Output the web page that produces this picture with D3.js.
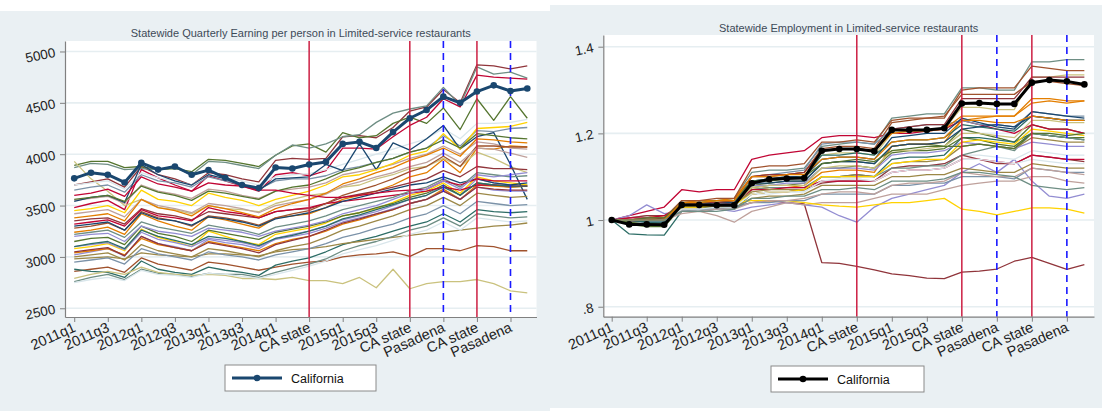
<!DOCTYPE html>
<html><head><meta charset="utf-8">
<script src="https://cdn.jsdelivr.net/npm/d3@7"></script>
<style>
body{margin:0;background:#fff;}
svg text{font-family:"Liberation Sans",Arial,Helvetica,sans-serif;}
</style></head><body>
<svg id="c" width="1110" height="411"></svg>
<script>
// ---------- DATA ----------
const quarters = ["2011q1","2011q2","2011q3","2011q4","2012q1","2012q2","2012q3","2012q4",
  "2013q1","2013q2","2013q3","2013q4","2014q1","2014q2","2014q3","2014q4",
  "2015q1","2015q2","2015q3","2015q4","2016q1","2016q2","2016q3","2016q4",
  "2017q1","2017q2","2017q3","2017q4"];
const tickQuarters = ["2011q1","2011q3","2012q1","2012q3","2013q1","2013q3","2014q1","2014q3","2015q1","2015q3","2016q1","2016q3","2017q1","2017q3"];
const tickLabels = ["2011q1","2011q3","2012q1","2012q3","2013q1","2013q3","2014q1","CA state","2015q1","2015q3","CA state","Pasadena","CA state","Pasadena"];
const caStateQuarters = ["2014q3","2016q1","2017q1"];
const pasadenaQuarters = ["2016q3","2017q3"];

const earnTitle = "Statewide Quarterly Earning per person in Limited-service restaurants";
const empTitle = "Statewide Employment in Limited-service restaurants";
const legendLabel = "California";

const earnTicks = [2500,3000,3500,4000,4500,5000];
const earnTickLabels = ["2500","3000","3500","4000","4500","5000"];
const empTicks = [0.8,1.0,1.2,1.4];
const empTickLabels = [".8","1","1.2","1.4"];

const earnCA = [3765,3820,3800,3725,3915,3850,3880,3800,3845,3770,3700,3670,3870,3860,3900,3925,4100,4120,4060,4215,4350,4430,4560,4500,4610,4670,4615,4640];
const empCA = [1.0,0.99,0.99,0.989,1.035,1.035,1.034,1.034,1.085,1.094,1.096,1.097,1.16,1.164,1.164,1.159,1.208,1.208,1.208,1.212,1.269,1.27,1.268,1.268,1.317,1.323,1.32,1.313];

const earnOthers = [
 [3700,3730,3760,3680, 3880,3800,3760,3700, 3820,3800,3760,3730, 3940,3960,3950,3960, 4170,4180,4160,4260, 4420,4460,4630,4500, 4870,4860,4830,4860],
 [3890,3930,3930,3870, 3880,3850,3860,3830, 3950,3940,3910,3880, 3990,4080,4100,4020, 4210,4160,4180,4300, 4360,4300,4450,4240, 4540,4330,4560,4350],
 [3240,3260,3290,3220, 3420,3350,3300,3260, 3390,3360,3320,3280, 3380,3400,3420,3480, 3560,3600,3640,3700, 3780,3820,3950,3820, 4060,4050,4080,4070],
 [3870,3910,3900,3850, 3860,3850,3870,3800, 3930,3920,3890,3860, 3990,4090,4060,4100, 4170,4190,4310,4400, 4440,4470,4650,4480, 4850,4780,4800,4740],
 [3480,3520,3550,3460, 3850,3770,3700,3640, 3790,3740,3690,3640, 3800,3820,3790,3840, 4060,4060,4050,4170, 4280,4360,4540,4460, 4770,4750,4740,4730],
 [3020,3050,3080,3010, 3200,3130,3100,3060, 3170,3140,3120,3080, 3180,3220,3250,3300, 3360,3400,3440,3500, 3560,3600,3700,3600, 3760,3720,3700,3700],
 [3930,3760,3640,3500, 3560,3480,3460,3420, 3500,3470,3460,3440, 3520,3560,3600,3620, 3680,3700,3760,3800, 3860,3880,3960,3880, 4020,3960,3880,3820],
 [2860,2880,2900,2850, 2990,2930,2900,2870, 2950,2930,2900,2870, 2900,2930,2950,2960, 3000,3020,3030,3050, 3005,3080,3080,3060, 3110,3100,3060,3060],
 [3650,3680,3700,3630, 3800,3740,3720,3680, 3780,3740,3700,3660, 3740,3760,3760,3790, 3850,3880,3920,3960, 4020,4060,4180,4080, 4230,4220,4250,4260],
 [2880,2860,2850,2800, 2960,2880,2850,2830, 2900,2870,2850,2820, 2920,2960,2990,3050, 3120,3160,3200,3250, 3300,3340,3420,3340, 3460,3440,3430,3440],
 [2980,2990,3000,2980, 3040,3020,3010,3000, 3030,3030,3020,3010, 3050,3070,3080,3100, 3130,3150,3170,3190, 3210,3230,3240,3260, 3280,3300,3310,3330],
 [3550,3570,3590,3520, 3700,3640,3610,3570, 3660,3640,3600,3570, 3640,3660,3680,3720, 3800,3830,3860,3900, 3960,4000,4080,4000, 4120,4100,4060,4050],
 [3080,3100,3130,3060, 3270,3190,3150,3100, 3250,3200,3150,3120, 3220,3250,3280,3330, 3400,3430,3470,3530, 3600,3640,3720,3620, 3780,3740,3720,3700],
 [3700,3720,3740,3660, 3820,3770,3740,3700, 3800,3770,3740,3700, 3780,3800,3810,3850, 3900,3950,4000,4050, 4100,4150,4250,4150, 4300,4300,4310,4340],
 [3540,3580,3600,3530, 3900,3800,3740,3700, 3800,3760,3700,3650, 3760,3770,3780,3900, 3840,4100,3850,4110, 4040,4150,4280,4050, 4170,4210,3900,3560],
 [3350,3370,3380,3320, 3470,3420,3400,3360, 3440,3420,3400,3380, 3440,3460,3470,3520, 3580,3610,3640,3680, 3720,3760,3840,3780, 3880,3860,3860,3850],
 [3150,3180,3190,3120, 3300,3230,3200,3150, 3260,3230,3200,3170, 3240,3270,3300,3340, 3400,3430,3480,3520, 3580,3620,3700,3600, 3720,3700,3680,3690],
 [3040,3060,3080,3020, 3180,3120,3090,3060, 3150,3120,3090,3060, 3130,3170,3200,3250, 3320,3360,3410,3460, 3520,3560,3660,3560, 3700,3690,3680,3690],
 [2760,2800,2830,2780, 2880,2840,2830,2810, 2840,2830,2830,2800, 2850,2890,2930,2980, 3060,3110,3150,3200, 3260,3300,3380,3300, 3420,3400,3380,3390],
 [3320,3340,3360,3300, 3460,3400,3380,3350, 3480,3440,3420,3380, 3440,3460,3480,3520, 3540,3560,3580,3600, 3620,3640,3680,3650, 3700,3700,3690,3690],
 [3100,3120,3140,3070, 3240,3170,3140,3100, 3180,3160,3140,3100, 3170,3200,3230,3280, 3340,3380,3420,3470, 3520,3560,3640,3560, 3680,3650,3640,3640],
 [2790,2830,2860,2830, 2900,2850,2830,2820, 2830,2820,2790,2790, 2780,2800,2770,2770, 2740,2800,2700,2880, 2690,2740,2760,2760, 2780,2740,2670,2650],
 [3280,3300,3330,3260, 3440,3380,3350,3300, 3400,3380,3350,3310, 3380,3420,3450,3520, 3600,3650,3700,3760, 3830,3880,3980,3880, 4080,4080,4070,4070],
 [2950,2970,2990,2930, 3080,3030,3000,2970, 3050,3020,3000,2970, 3020,3050,3080,3130, 3190,3230,3280,3320, 3380,3420,3500,3420, 3540,3520,3500,3510],
 [3100,3130,3150,3080, 3260,3200,3160,3120, 3200,3180,3150,3110, 3180,3210,3250,3300, 3370,3410,3460,3510, 3560,3600,3680,3600, 3720,3700,3690,3690],
 [3000,3020,3040,2970, 3120,3060,3030,3000, 3080,3060,3030,3000, 3060,3100,3130,3190, 3260,3300,3350,3400, 3460,3500,3580,3500, 3620,3600,3580,3590],
 [3420,3440,3460,3390, 3560,3500,3470,3430, 3520,3500,3470,3430, 3500,3530,3560,3610, 3690,3730,3780,3820, 3880,3920,4010,3920, 4060,4050,4010,3970],
 [3450,3470,3500,3430, 3650,3560,3540,3500, 3620,3580,3550,3500, 3560,3600,3640,3700, 3780,3800,3850,3910, 3990,4030,4200,4050, 4250,4260,4270,4310],
 [2750,2780,2800,2770, 2870,2830,2820,2800, 2840,2830,2810,2790, 2830,2870,2910,2960, 3030,3070,3110,3160, 3220,3260,3340,3260, 3380,3360,3340,3350],
 [3300,3320,3340,3260, 3430,3370,3350,3310, 3390,3370,3340,3300, 3370,3400,3430,3480, 3540,3580,3620,3660, 3700,3720,3780,3720, 3760,3720,3700,3720],
 [3050,3070,3090,3010, 3200,3130,3090,3060, 3140,3110,3080,3040, 3120,3160,3200,3260, 3330,3370,3420,3460, 3520,3560,3640,3560, 3680,3660,3650,3650],
 [3560,3580,3600,3540, 3690,3630,3600,3550, 3640,3620,3590,3560, 3640,3680,3700,3760, 3830,3870,3920,3960, 4020,4060,4140,4060, 4200,4180,4160,4150],
 [3380,3400,3420,3350, 3560,3480,3450,3400, 3500,3470,3430,3390, 3470,3520,3560,3620, 3710,3760,3820,3870, 3940,3990,4060,3980, 4150,4140,4120,4110],
 [3220,3240,3260,3190, 3340,3290,3260,3230, 3310,3280,3260,3220, 3290,3320,3350,3400, 3460,3500,3540,3580, 3640,3680,3760,3680, 3820,3800,3780,3790],
 [3600,3620,3660,3590, 3780,3710,3680,3640, 3720,3700,3690,3650, 3650,3620,3600,3580, 3580,3600,3620,3640, 3650,3660,3740,3700, 3760,3740,3740,3740],
 [3200,3220,3230,3150, 3300,3250,3230,3200, 3280,3260,3240,3200, 3250,3280,3310,3350, 3420,3460,3500,3560, 3620,3660,3740,3660, 3800,3780,3800,3820]
];

const empOthers = [
 [1.0,0.995,1.0,1.0, 1.02,1.025,1.03,1.03, 1.04,1.045,1.04,1.037, 0.902,0.9,0.893,0.885, 0.876,0.872,0.866,0.865, 0.88,0.882,0.887,0.905, 0.914,0.9,0.886,0.897],
 [1.0,0.99,0.985,0.985, 1.03,1.03,1.035,1.035, 1.08,1.085,1.09,1.09, 1.13,1.135,1.135,1.13, 1.17,1.175,1.175,1.17, 1.21,1.2,1.19,1.18, 1.22,1.21,1.21,1.2],
 [1.0,1.0,0.995,0.99, 1.03,1.03,1.03,1.035, 1.07,1.075,1.075,1.08, 1.11,1.115,1.115,1.11, 1.17,1.175,1.175,1.18, 1.23,1.235,1.24,1.24, 1.27,1.275,1.27,1.275],
 [1.0,1.0,1.0,1.0, 1.04,1.045,1.045,1.05, 1.11,1.115,1.115,1.12, 1.17,1.175,1.18,1.175, 1.235,1.24,1.245,1.245, 1.305,1.305,1.3,1.3, 1.365,1.365,1.37,1.37],
 [1.0,1.01,1.02,1.03, 1.07,1.065,1.07,1.07, 1.14,1.15,1.155,1.16, 1.19,1.195,1.195,1.19, 1.2,1.2,1.205,1.21, 1.23,1.22,1.21,1.2, 1.22,1.21,1.21,1.2],
 [1.0,1.01,1.035,1.015, 1.02,1.02,1.025,1.02, 1.03,1.035,1.04,1.035, 1.03,1.01,0.995,1.03, 1.05,1.06,1.07,1.08, 1.11,1.13,1.11,1.14, 1.09,1.055,1.05,1.06],
 [1.0,1.0,1.005,1.005, 1.04,1.04,1.045,1.045, 1.09,1.095,1.1,1.1, 1.15,1.155,1.155,1.15, 1.2,1.205,1.21,1.21, 1.26,1.26,1.255,1.255, 1.33,1.33,1.335,1.335],
 [1.0,1.0,1.0,1.0, 1.04,1.04,1.04,1.045, 1.1,1.1,1.105,1.11, 1.165,1.17,1.17,1.165, 1.225,1.23,1.235,1.235, 1.3,1.305,1.305,1.305, 1.355,1.35,1.345,1.345],
 [1.0,0.995,0.995,0.99, 1.03,1.035,1.035,1.035, 1.1,1.105,1.11,1.115, 1.175,1.18,1.18,1.175, 1.21,1.215,1.22,1.22, 1.23,1.22,1.22,1.215, 1.25,1.245,1.24,1.24],
 [1.0,0.968,0.966,0.965, 1.02,1.02,1.025,1.025, 1.06,1.065,1.065,1.07, 1.1,1.1,1.105,1.1, 1.14,1.145,1.145,1.15, 1.19,1.19,1.185,1.18, 1.2,1.195,1.19,1.185],
 [1.0,1.0,1.005,1.005, 1.025,1.025,1.03,1.03, 1.05,1.055,1.055,1.06, 1.08,1.08,1.08,1.08, 1.1,1.1,1.105,1.105, 1.12,1.115,1.11,1.11, 1.13,1.125,1.12,1.12],
 [1.0,1.005,1.01,1.0, 1.015,1.02,1.01,0.995, 1.02,1.03,1.04,1.035, 1.04,1.04,1.04,1.05, 1.06,1.06,1.06,1.07, 1.08,1.085,1.09,1.09, 1.1,1.1,1.09,1.085],
 [1.0,1.0,1.005,1.01, 1.03,1.035,1.04,1.04, 1.045,1.045,1.045,1.04, 1.035,1.032,1.03,1.035, 1.04,1.04,1.045,1.05, 1.025,1.02,1.012,1.02, 1.028,1.028,1.025,1.016],
 [1.0,1.0,1.0,1.0, 1.02,1.025,1.025,1.03, 1.06,1.06,1.065,1.065, 1.09,1.09,1.095,1.09, 1.12,1.125,1.125,1.13, 1.15,1.15,1.145,1.14, 1.16,1.155,1.15,1.15],
 [1.0,1.0,0.995,0.995, 1.035,1.04,1.04,1.04, 1.09,1.095,1.1,1.1, 1.14,1.145,1.145,1.14, 1.19,1.195,1.2,1.2, 1.235,1.225,1.215,1.21, 1.25,1.245,1.24,1.235],
 [1.0,1.005,1.01,1.01, 1.03,1.035,1.035,1.04, 1.06,1.065,1.065,1.07, 1.085,1.09,1.09,1.09, 1.12,1.125,1.125,1.13, 1.15,1.14,1.13,1.13, 1.15,1.145,1.14,1.135],
 [1.0,0.995,0.99,0.99, 1.03,1.03,1.03,1.03, 1.075,1.08,1.08,1.085, 1.12,1.12,1.125,1.12, 1.155,1.16,1.16,1.165, 1.19,1.185,1.175,1.17, 1.2,1.195,1.19,1.19],
 [1.0,1.0,1.0,1.0, 1.04,1.045,1.045,1.05, 1.1,1.105,1.105,1.11, 1.16,1.165,1.165,1.16, 1.2,1.205,1.205,1.21, 1.24,1.24,1.24,1.24, 1.28,1.28,1.275,1.275],
 [1.0,1.0,1.0,1.005, 1.03,1.035,1.035,1.035, 1.07,1.075,1.075,1.075, 1.1,1.1,1.1,1.1, 1.12,1.12,1.125,1.125, 1.15,1.16,1.17,1.16, 1.2,1.195,1.19,1.185],
 [1.0,1.005,1.005,1.01, 1.035,1.035,1.04,1.04, 1.07,1.07,1.075,1.075, 1.09,1.09,1.09,1.09, 1.11,1.115,1.115,1.12, 1.14,1.14,1.135,1.13, 1.15,1.145,1.14,1.14],
 [1.0,1.0,1.005,1.005, 1.035,1.035,1.04,1.04, 1.08,1.08,1.085,1.085, 1.12,1.12,1.12,1.115, 1.15,1.155,1.155,1.16, 1.18,1.175,1.17,1.165, 1.18,1.175,1.17,1.17],
 [1.0,1.0,1.0,1.0, 1.03,1.03,1.035,1.035, 1.075,1.08,1.08,1.08, 1.12,1.125,1.125,1.12, 1.16,1.16,1.165,1.17, 1.2,1.2,1.195,1.19, 1.23,1.23,1.225,1.225],
 [1.0,1.0,1.005,1.005, 1.045,1.045,1.05,1.05, 1.12,1.125,1.125,1.13, 1.18,1.18,1.185,1.18, 1.23,1.235,1.235,1.24, 1.29,1.29,1.29,1.29, 1.32,1.32,1.315,1.31],
 [1.0,1.0,1.0,1.0, 1.02,1.025,1.025,1.03, 1.04,1.04,1.045,1.045, 1.06,1.06,1.06,1.06, 1.08,1.08,1.085,1.085, 1.1,1.1,1.1,1.095, 1.12,1.115,1.11,1.11],
 [1.0,1.0,0.995,0.995, 1.035,1.04,1.04,1.04, 1.09,1.095,1.095,1.1, 1.15,1.15,1.155,1.15, 1.18,1.185,1.185,1.19, 1.22,1.215,1.21,1.205, 1.24,1.235,1.23,1.23],
 [1.0,1.0,1.0,1.0, 1.03,1.03,1.035,1.035, 1.065,1.07,1.07,1.07, 1.1,1.1,1.105,1.1, 1.13,1.135,1.135,1.14, 1.17,1.175,1.17,1.165, 1.19,1.185,1.18,1.18],
 [1.0,1.0,1.0,1.0, 1.02,1.02,1.025,1.025, 1.04,1.045,1.045,1.05, 1.06,1.065,1.065,1.06, 1.08,1.085,1.085,1.09, 1.11,1.105,1.1,1.1, 1.12,1.115,1.11,1.105],
 [1.0,1.0,1.0,1.005, 1.03,1.03,1.035,1.035, 1.06,1.065,1.065,1.07, 1.1,1.1,1.1,1.1, 1.13,1.135,1.14,1.14, 1.18,1.185,1.18,1.175, 1.21,1.205,1.2,1.195],
 [1.0,1.0,1.0,1.0, 1.025,1.025,1.03,1.03, 1.06,1.065,1.065,1.065, 1.09,1.095,1.095,1.09, 1.11,1.115,1.115,1.12, 1.14,1.14,1.135,1.13, 1.14,1.135,1.13,1.13],
 [1.0,1.0,1.0,1.0, 1.035,1.035,1.04,1.04, 1.085,1.085,1.09,1.09, 1.13,1.135,1.135,1.13, 1.17,1.175,1.175,1.18, 1.21,1.215,1.22,1.215, 1.24,1.235,1.23,1.23],
 [1.0,1.0,1.0,1.005, 1.035,1.04,1.04,1.045, 1.1,1.105,1.105,1.11, 1.16,1.165,1.165,1.16, 1.21,1.215,1.22,1.22, 1.28,1.28,1.28,1.28, 1.33,1.33,1.33,1.33],
 [1.0,1.0,1.005,1.005, 1.04,1.04,1.045,1.045, 1.09,1.09,1.095,1.1, 1.13,1.135,1.14,1.135, 1.16,1.165,1.17,1.17, 1.17,1.175,1.17,1.165, 1.2,1.2,1.195,1.2],
 [1.0,1.0,1.0,1.0, 1.04,1.04,1.045,1.045, 1.1,1.1,1.105,1.105, 1.14,1.145,1.145,1.14, 1.18,1.185,1.185,1.19, 1.23,1.23,1.225,1.225, 1.24,1.235,1.23,1.23],
 [1.0,1.0,1.0,1.0, 1.02,1.02,1.02,1.025, 1.05,1.05,1.055,1.055, 1.07,1.07,1.075,1.07, 1.09,1.09,1.09,1.095, 1.11,1.11,1.105,1.1, 1.08,1.075,1.07,1.075]
];

const palette = ["#1a476f","#90353b","#55752f","#e37e00","#6e8e84","#c10534","#938dd2","#cac27e","#a0522d","#7b92a8","#2d6d66","#9c8847","#bfa19c","#ffd200","#d9e6eb"];

// ---------- DRAW ----------
const svg = d3.select("#c");
const qIndex = q => quarters.indexOf(q);

function drawPanel(o){
  const g = svg.append("g");
  g.append("rect").attr("x",o.bg[0]).attr("y",o.bg[1]).attr("width",o.bg[2]).attr("height",o.bg[3]).attr("fill","#eaf0f3");
  const x = d3.scaleLinear().domain(o.xDomain).range([o.left,o.right]);
  const y = d3.scaleLinear().domain(o.yDomain).range([o.bottom,o.top]);
  g.append("rect").attr("x",o.left).attr("y",o.top).attr("width",o.right-o.left).attr("height",o.bottom-o.top).attr("fill","#fff");
  g.selectAll("line.grid").data(o.yTicks).join("line").attr("class","grid")
    .attr("x1",o.left).attr("x2",o.right).attr("y1",d=>y(d)).attr("y2",d=>y(d))
    .attr("stroke","#e6eef1").attr("stroke-width",1.6);
  g.append("text").attr("x",(o.left+o.right)/2).attr("y",o.titleY).attr("text-anchor","middle")
    .attr("font-size",11).attr("fill","#3d4a58").text(o.title);

  const line = d3.line().x((d,i)=>x(i)).y(d=>y(d));
  g.append("g").selectAll("path").data(o.others).join("path")
    .attr("d",line).attr("fill","none")
    .attr("stroke",(d,i)=>palette[(i+1)%palette.length])
    .attr("stroke-width",1.3).attr("stroke-linejoin","round");

  // event lines
  g.selectAll("line.ca").data(caStateQuarters).join("line").attr("class","ca")
    .attr("x1",d=>x(qIndex(d))).attr("x2",d=>x(qIndex(d))).attr("y1",o.top).attr("y2",o.bottom)
    .attr("stroke","#cc1f43").attr("stroke-width",1.5);
  g.selectAll("line.pas").data(pasadenaQuarters).join("line").attr("class","pas")
    .attr("x1",d=>x(qIndex(d))).attr("x2",d=>x(qIndex(d))).attr("y1",o.top).attr("y2",o.bottom)
    .attr("stroke","#1a1aff").attr("stroke-width",1.6).attr("stroke-dasharray","7,5");

  // California
  g.append("path").datum(o.ca).attr("d",line).attr("fill","none").attr("stroke",o.caColor)
    .attr("stroke-width",3).attr("stroke-linejoin","round");
  g.selectAll("circle.ca").data(o.ca).join("circle").attr("class","ca")
    .attr("cx",(d,i)=>x(i)).attr("cy",d=>y(d)).attr("r",3.3).attr("fill",o.caColor);

  // axes
  const yAxis = d3.axisLeft(y).tickValues(o.yTicks).tickFormat((d,i)=>o.yLabels[i]).tickSize(5).tickSizeOuter(0).tickPadding(5);
  const ya = g.append("g").attr("transform",`translate(${o.left},0)`).call(yAxis);
  ya.select(".domain").attr("stroke","#808080").attr("stroke-width",1.2);
  ya.selectAll(".tick line").attr("stroke","#808080");
  ya.selectAll(".tick text").attr("font-size",13.5).attr("fill","#222").attr("dy","0.35em")
    .attr("transform","rotate(-12,-10,0)");

  const xAxis = d3.axisBottom(x).tickValues(tickQuarters.map(qIndex)).tickFormat((d,i)=>tickLabels[i]).tickSize(5).tickSizeOuter(0);
  const xa = g.append("g").attr("transform",`translate(0,${o.bottom})`).call(xAxis);
  xa.select(".domain").attr("stroke","#808080").attr("stroke-width",1.2);
  xa.selectAll(".tick line").attr("stroke","#808080");
  xa.selectAll(".tick text").attr("font-size",14.5).attr("fill","#222")
    .attr("text-anchor","end").attr("x",2).attr("y",14).attr("dy",0)
    .attr("transform","rotate(-24,2,14)");

  // legend
  const L = o.legend;
  g.append("rect").attr("x",L[0]).attr("y",L[1]).attr("width",L[2]).attr("height",L[3])
    .attr("fill","#fff").attr("stroke","#8a8a8a").attr("stroke-width",1);
  const ly = L[1]+L[3]/2;
  g.append("line").attr("x1",L[0]+7).attr("x2",L[0]+57).attr("y1",ly).attr("y2",ly)
    .attr("stroke",o.caColor).attr("stroke-width",3);
  g.append("circle").attr("cx",L[0]+32).attr("cy",ly).attr("r",3.3).attr("fill",o.caColor);
  g.append("text").attr("x",L[0]+66).attr("y",ly+4.5).attr("font-size",12.5).attr("fill","#111").text(legendLabel);
}

drawPanel({bg:[0,11,550,400], left:65, right:536.5, top:41, bottom:317,
  xDomain:[-0.55,27.55], yDomain:[2415,5102], yTicks:earnTicks, yLabels:earnTickLabels,
  title:earnTitle, titleY:36.5, others:earnOthers, ca:earnCA, caColor:"#1a476f",
  legend:[225,365,151,26]});
drawPanel({bg:[550,5,552,403], left:603.3, right:1094, top:35, bottom:316.7,
  xDomain:[-0.48,27.55], yDomain:[0.777,1.427], yTicks:empTicks, yLabels:empTickLabels,
  title:empTitle, titleY:32, others:empOthers, ca:empCA, caColor:"#000000",
  legend:[771,366,153,26]});
</script>
</body></html>
